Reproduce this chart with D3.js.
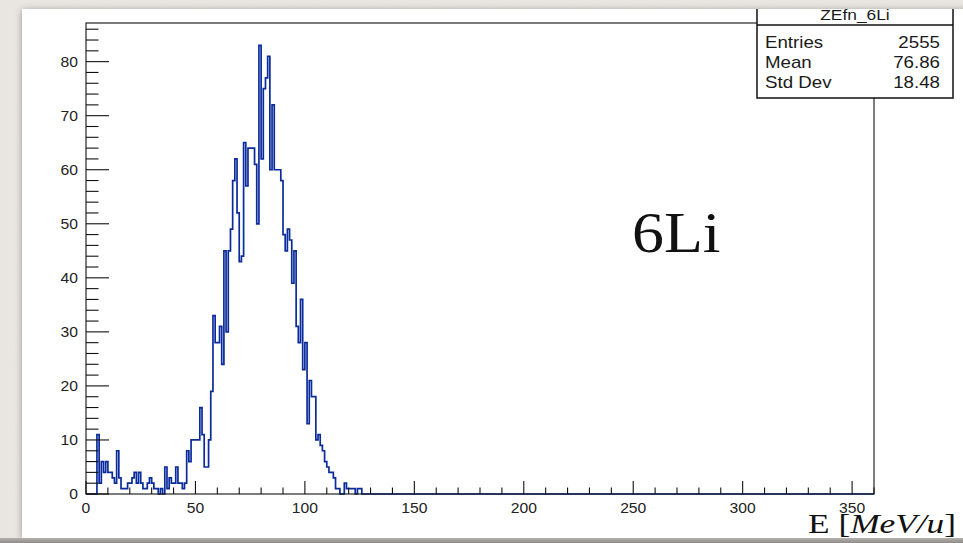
<!DOCTYPE html>
<html>
<head>
<meta charset="utf-8">
<script src="https://cdn.jsdelivr.net/npm/d3@7"></script>
<style>
  html, body { margin: 0; padding: 0; background: #ebe8e4; }
  svg { display: block; }
</style>
</head>
<body>
<svg id="chart" width="963" height="543"></svg>
<script>
// Counts per 1 MeV/u bin, starting at 0 (bins beyond the list are empty)
const binLow = 0;
const binWidth = 1;
const nBins = 360;
const counts = [
  0, 0, 0, 0, 0, 11, 2, 6, 4, 6,
  4, 4, 3, 2, 8, 3, 1, 1, 1, 2,
  2, 3, 4, 2, 4, 2, 1, 1, 2, 3,
  2, 1, 1, 0, 1, 0, 5, 1, 3, 2,
  2, 5, 2, 2, 1, 2, 8, 6, 10, 10,
  10, 10, 16, 11, 5, 5, 10, 19, 33, 28,
  28, 31, 24, 45, 30, 45, 49, 58, 62, 52,
  43, 44, 65, 57, 64, 64, 64, 61, 50, 83,
  62, 75, 77, 81, 60, 72, 60, 60, 60, 58,
  48, 45, 49, 47, 39, 45, 31, 28, 36, 23,
  28, 13, 21, 18, 18, 10, 11, 9, 8, 6,
  5, 4, 4, 3, 1, 1, 0, 0, 2, 1,
  1, 1, 1, 0, 1, 1
];
const xDomain = [0, 360];
const yDomain = [0, 87.15];
const xMajorTicks = [0, 50, 100, 150, 200, 250, 300, 350];
const yMajorTicks = [0, 10, 20, 30, 40, 50, 60, 70, 80];
const statsTitle = "ZEfn_6Li";
const statsNames = ["Entries", "Mean", "Std Dev"];
const statsValues = ["2555", "76.86", "18.48"];
const particleLabel = "6Li";

const svg = d3.select("#chart");
const defs = svg.append("defs");

// paper texture for the slide background
const noise = defs.append("filter").attr("id", "paper").attr("x", 0).attr("y", 0).attr("width", 1).attr("height", 1);
noise.append("feTurbulence").attr("type", "fractalNoise").attr("baseFrequency", 0.9).attr("numOctaves", 2).attr("seed", 3).attr("result", "n");
noise.append("feColorMatrix").attr("in", "n").attr("type", "matrix")
  .attr("values", "0 0 0 0 0.55  0 0 0 0 0.53  0 0 0 0 0.5  0 0 0 0.10 0");
const shadow = defs.append("filter").attr("id", "shadow").attr("x", -0.05).attr("y", -0.05).attr("width", 1.1).attr("height", 1.1);
shadow.append("feDropShadow").attr("dx", 0).attr("dy", 1).attr("stdDeviation", 3.5)
  .attr("flood-color", "#000").attr("flood-opacity", 0.35);

defs.append("clipPath").attr("id", "panelClip")
  .append("rect").attr("x", 22).attr("y", 9).attr("width", 941).attr("height", 529);

const grad = defs.append("linearGradient").attr("id", "band").attr("x1", 0).attr("y1", 0).attr("x2", 0).attr("y2", 1);
grad.append("stop").attr("offset", 0).attr("stop-color", "#b4b1ad");
grad.append("stop").attr("offset", 1).attr("stop-color", "#8e8b88");

// slide background
svg.append("rect").attr("width", 963).attr("height", 543).attr("fill", "#ebe8e4");
svg.append("rect").attr("width", 963).attr("height", 543).attr("filter", "url(#paper)");

// white picture panel
svg.append("rect").attr("x", 22).attr("y", 9).attr("width", 960).attr("height", 529)
  .attr("fill", "#fff").attr("filter", "url(#shadow)");
svg.append("rect").attr("x", 0).attr("y", 538).attr("width", 963).attr("height", 5).attr("fill", "url(#band)");

const g = svg.append("g").attr("clip-path", "url(#panelClip)");

const frame = { left: 86, right: 874, top: 23, bottom: 494 };
const x = d3.scaleLinear().domain(xDomain).range([frame.left, frame.right]);
const y = d3.scaleLinear().domain(yDomain).range([frame.bottom, frame.top]);

// stretch text horizontally by factor k
function stretch(sel, k) {
  sel.each(function () {
    const w = this.getComputedTextLength();
    this.setAttribute("textLength", (w * k).toFixed(2));
    this.setAttribute("lengthAdjust", "spacingAndGlyphs");
  });
}

// histogram outline
const pts = [[binLow, 0]];
for (let i = 0; i < nBins; i++) {
  const c = i < counts.length ? counts[i] : 0;
  const lo = binLow + i * binWidth;
  pts.push([lo, c], [lo + binWidth, c]);
}
pts.push([binLow + nBins * binWidth, 0]);
const line = d3.line().x(d => x(d[0])).y(d => y(d[1]));
g.append("path").attr("d", line(pts))
  .attr("fill", "none").attr("stroke", "#0a2b9c").attr("stroke-width", 1.7)
  .attr("stroke-linejoin", "miter");

// frame
g.append("rect").attr("x", frame.left).attr("y", frame.top)
  .attr("width", frame.right - frame.left).attr("height", frame.bottom - frame.top)
  .attr("fill", "none").attr("stroke", "#111").attr("stroke-width", 1.1);

// x axis ticks (drawn inward)
const xMinor = d3.range(xDomain[0], xDomain[1] + 0.001, 10);
g.append("g").selectAll("line").data(xMinor).join("line")
  .attr("x1", d => x(d)).attr("x2", d => x(d))
  .attr("y1", frame.bottom)
  .attr("y2", d => frame.bottom - (xMajorTicks.includes(d) ? 13 : 6.5))
  .attr("stroke", "#111").attr("stroke-width", 1.1);

// y axis ticks (drawn inward)
const yMinor = d3.range(0, yDomain[1], 2);
g.append("g").selectAll("line").data(yMinor).join("line")
  .attr("y1", d => y(d)).attr("y2", d => y(d))
  .attr("x1", frame.left)
  .attr("x2", d => frame.left + (yMajorTicks.includes(d) ? 23 : 12.5))
  .attr("stroke", "#111").attr("stroke-width", 1.1);

const axisFont = "'Liberation Sans', Arial, Helvetica, sans-serif";
const xl = g.append("g").selectAll("text").data(xMajorTicks).join("text")
  .attr("x", d => x(d)).attr("y", 513)
  .attr("text-anchor", "middle")
  .attr("font-family", axisFont).attr("font-size", 14).attr("fill", "#222")
  .text(d => d);
stretch(xl, 1.12);

const yl = g.append("g").selectAll("text").data(yMajorTicks).join("text")
  .attr("x", 78).attr("y", d => y(d) + 5)
  .attr("text-anchor", "end")
  .attr("font-family", axisFont).attr("font-size", 14).attr("fill", "#222")
  .text(d => d);
stretch(yl, 1.12);

// statistics box
const box = { left: 757, right: 953, top: -6, mid: 25, bottom: 98 };
g.append("rect").attr("x", box.left).attr("y", box.top)
  .attr("width", box.right - box.left).attr("height", box.bottom - box.top)
  .attr("fill", "#fff").attr("stroke", "#111").attr("stroke-width", 1.5);
g.append("line").attr("x1", box.left).attr("x2", box.right)
  .attr("y1", box.mid).attr("y2", box.mid)
  .attr("stroke", "#111").attr("stroke-width", 1.5);
const title = g.append("text").attr("x", (box.left + box.right) / 2).attr("y", 20)
  .attr("text-anchor", "middle").attr("font-family", axisFont).attr("font-size", 15.5)
  .attr("fill", "#1a1a1a").text(statsTitle);
stretch(title, 1.12);
const rowY = [48, 68, 88];
const names = g.append("g").selectAll("text").data(statsNames).join("text")
  .attr("x", 765).attr("y", (d, i) => rowY[i])
  .attr("font-family", axisFont).attr("font-size", 17).attr("fill", "#1a1a1a")
  .text(d => d);
stretch(names, 1.1);
const vals = g.append("g").selectAll("text").data(statsValues).join("text")
  .attr("x", 940).attr("y", (d, i) => rowY[i])
  .attr("text-anchor", "end")
  .attr("font-family", axisFont).attr("font-size", 17).attr("fill", "#1a1a1a")
  .text(d => d);
stretch(vals, 1.1);

// particle label
const serif = "'Liberation Serif', 'Times New Roman', serif";
const pl = g.append("text").attr("x", 632).attr("y", 252)
  .attr("font-family", serif).attr("font-size", 58).attr("fill", "#111")
  .text(particleLabel);
stretch(pl, 1.1);

// axis title with italic unit
const at = g.append("text").attr("x", 808).attr("y", 533)
  .attr("font-family", serif).attr("font-size", 28).attr("fill", "#111");
at.append("tspan").text("E [");
at.append("tspan").attr("font-style", "italic").text("MeV/u");
at.append("tspan").text("]");
at.attr("textLength", 148).attr("lengthAdjust", "spacingAndGlyphs");
</script>
</body>
</html>
